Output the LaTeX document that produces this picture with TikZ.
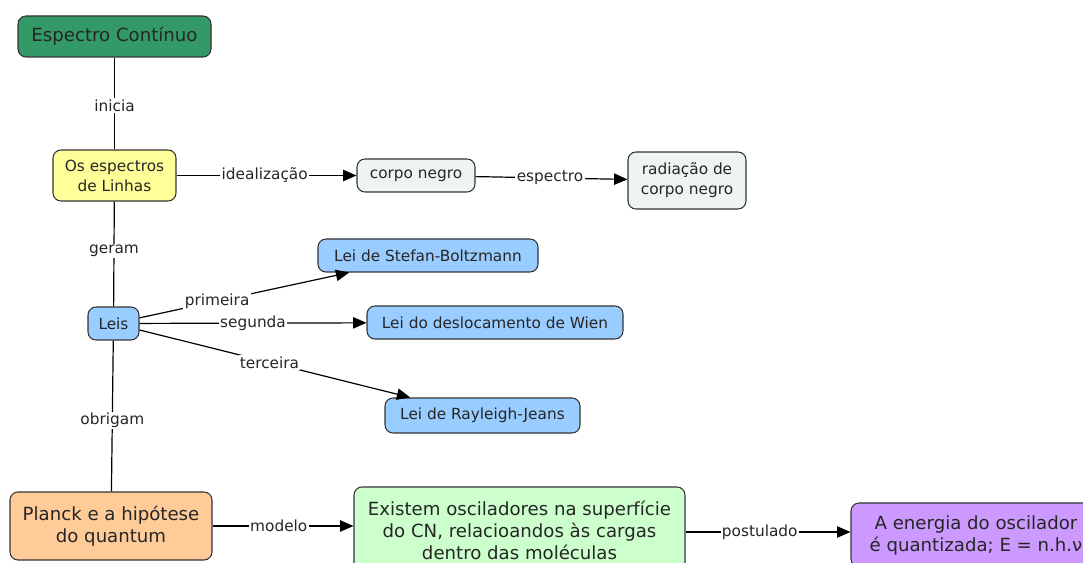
\documentclass[tikz,border=0pt]{standalone}
\usepackage{fontspec}
\setmainfont{DejaVu Sans}
\usetikzlibrary{arrows.meta}
\definecolor{cgreen}{HTML}{339966}
\definecolor{cyellow}{HTML}{FFFF99}
\definecolor{cgray}{HTML}{EEF3F3}
\definecolor{cblue}{HTML}{99CCFF}
\definecolor{corange}{HTML}{FFCC99}
\definecolor{clight}{HTML}{CCFFCC}
\definecolor{cviolet}{HTML}{CC99FF}
\definecolor{cborder}{HTML}{333333}
\tikzset{
  concept/.style={draw=cborder, line width=0.8pt, rounded corners=6pt, align=center,
    inner sep=0pt, text=black!85, font=\fontsize{11.5}{15}\selectfont},
  bigconcept/.style={concept, font=\fontsize{13.6}{16.5}\selectfont},
  size/.style 2 args={minimum width=#1*0.75pt, minimum height=#2*0.75pt},
  link/.style={draw=black, line width=0.9pt},
  arrowlink/.style={link, -{Triangle[length=10pt,width=8.5pt]}},
  lbl/.style={fill=white, inner sep=1pt, text=black!85, font=\fontsize{11.5}{13}\selectfont},
}
\begin{document}
\begin{tikzpicture}[x=0.75pt,y=-0.75pt]
\useasboundingbox (0,0) rectangle (1083,563);
\clip (0,0) rectangle (1083,563);
% concepts
\node[bigconcept, fill=cgreen, size={193}{41}] (ec) at (114.5,36.5) {Espectro Contínuo};
\node[concept, fill=cyellow, size={123}{51}] (oel) at (114.5,175.5) {Os espectros\\de Linhas};
\node[concept, fill=cgray, size={118}{33}] (cn) at (416,175.5) {corpo negro};
\node[concept, fill=cgray, size={118}{57}] (rcn) at (687,180.5) {radiação de\\corpo negro};
\node[concept, fill=cblue, size={51}{33}] (leis) at (113.5,323.5) {Leis};
\node[concept, fill=cblue, size={220}{33}] (lsb) at (428,255.5) {Lei de Stefan-Boltzmann};
\node[concept, fill=cblue, size={256}{33}] (ldw) at (495,322.5) {Lei do deslocamento de Wien};
\node[concept, fill=cblue, size={195}{35}] (lrj) at (482.5,415.5) {Lei de Rayleigh-Jeans};
\node[bigconcept, fill=corange, size={202}{68}] (planck) at (111,526) {Planck e a hipótese\\do quantum};
\node[bigconcept, fill=clight, size={331}{86}] (exist) at (519.5,530) {Existem osciladores na superfície\\do CN, relacioandos às cargas\\dentro das moléculas};
\node[bigconcept, fill=cviolet, size={250}{64}] (energ) at (976,535) {A energia do oscilador\\é quantizada; E = n.h.ν};
% links
\draw[link] (ec) -- node[lbl,pos=0.52]{inicia} (oel);
\draw[arrowlink] (oel) -- node[lbl,pos=0.49]{idealização} (cn);
\draw[arrowlink] (cn) -- node[lbl,pos=0.49]{espectro} (rcn);
\draw[link] (oel) -- node[lbl,pos=0.47]{geram} (leis);
\draw[arrowlink] (leis) -- node[lbl,pos=0.37]{primeira} (lsb);
\draw[arrowlink] (leis) -- node[lbl,pos=0.5]{segunda} (ldw);
\draw[arrowlink] (leis) -- node[lbl,pos=0.48]{terceira} (lrj);
\draw[link] (leis) -- node[lbl,pos=0.53]{obrigam} (planck);
\draw[arrowlink] (planck.east) -- node[lbl,pos=0.47]{modelo} (planck.east -| exist.west);
\draw[arrowlink] ([yshift=-1.5pt]exist.east) -- node[lbl,pos=0.45]{postulado} ([yshift=-1.5pt]exist.east -| energ.west);
\end{tikzpicture}
\end{document}
